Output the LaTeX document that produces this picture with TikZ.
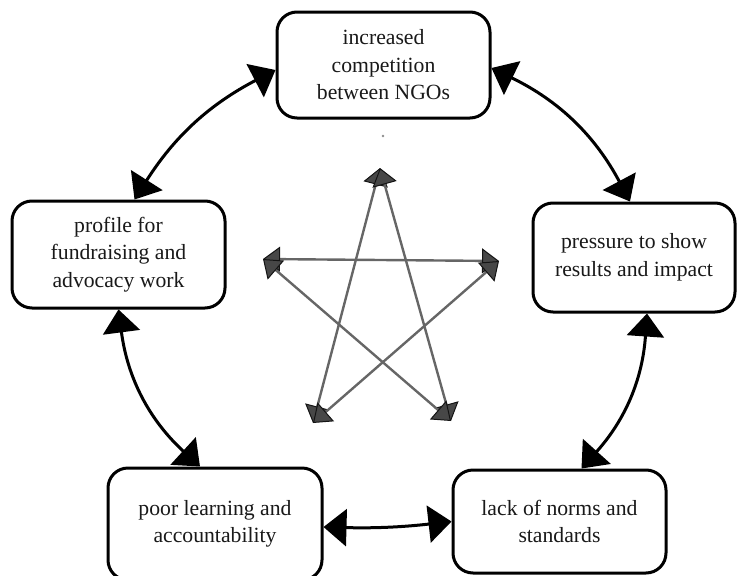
\documentclass[tikz,border=0pt]{standalone}
\usepackage{fontspec}
\setmainfont{Liberation Serif}
\usetikzlibrary{arrows.meta}
\begin{document}
\begin{tikzpicture}[x=1pt,y=-1pt,
  box/.style={draw=black, line width=3pt, rounded corners=20pt, fill=white,
    align=center, inner sep=0pt, text=black!90,
    font=\fontsize{21.7}{27.5}\selectfont},
  bigtip/.tip={Triangle[length=23pt,width=37pt]},
  link/.style={draw=black, line width=3pt, {bigtip}-{bigtip}},
  startip/.tip={Triangle[length=17pt,width=25pt,fill=black!72,color=black!92,line width=1pt]},
  ray/.style={draw=black!60, line width=2.4pt, {startip}-{startip}}]
\useasboundingbox (0,0) rectangle (737,576);

% the five factors
\node[box, minimum width=213pt, minimum height=106pt] (comp)    at (383.5,65)  {increased\\competition\\between NGOs};
\node[box, minimum width=202pt, minimum height=109pt] (press)   at (634,257.5) {pressure to show\\results and impact};
\node[box, minimum width=213pt, minimum height=103pt] (norms)   at (559.5,521.5) {lack of norms and\\standards};
\node[box, minimum width=214pt, minimum height=112pt] (learn)   at (215,524)   {poor learning and\\accountability};
\node[box, minimum width=213pt, minimum height=107pt] (profile) at (118.5,254.5) {profile for\\fundraising and\\advocacy work};

% links around the cycle
\draw[link] ([yshift=-5pt]comp.west) to[bend right=15] ([xshift=16pt]profile.north);
\draw[link] ([yshift=-3pt]comp.east) to[bend left=18] ([xshift=-4pt]press.north);
\draw[link] ([xshift=13pt]press.south) to[bend left=19] ([xshift=22pt]norms.north);
\draw[link] ([yshift=-3pt]learn.east) to[bend right=4] (norms.west);
\draw[link] (profile.south) to[bend right=20] ([xshift=-15pt]learn.north);

% central star of mutual influence
\coordinate (st) at (380,168);
\coordinate (sl) at (263,259);
\coordinate (sr) at (499,261);
\coordinate (sbl) at (313,423);
\coordinate (sbr) at (451,421);
\draw[ray] (st) -- (sbl);
\draw[ray] (st) -- (sbr);
\draw[ray] (sl) -- (sr);
\draw[ray] (sl) -- (sbr);
\draw[ray] (sr) -- (sbl);

\fill[black!45] (383,136) circle (1.3pt) coordinate (dot);
\end{tikzpicture}
\end{document}
